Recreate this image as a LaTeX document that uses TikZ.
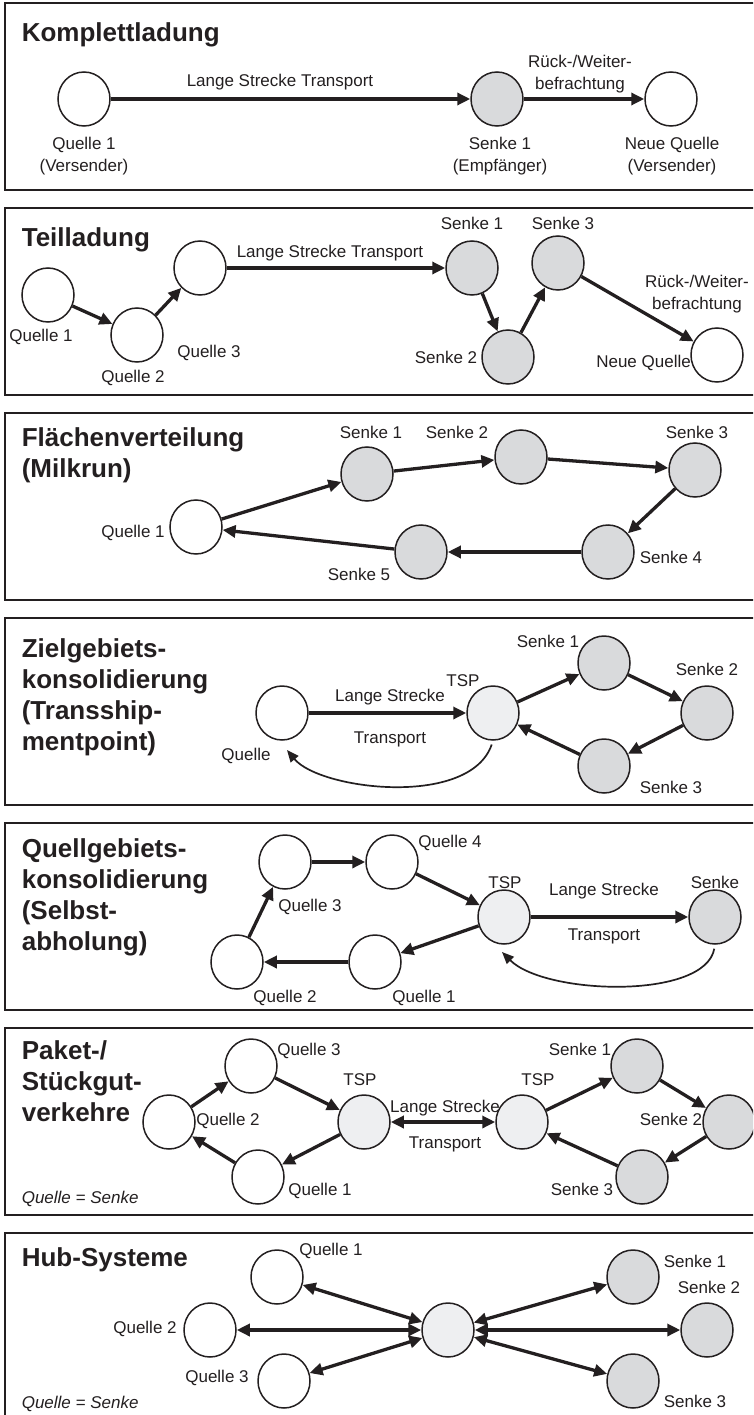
\documentclass[tikz,border=0pt]{standalone}
\usepackage{fontspec}
\setmainfont{Liberation Sans}
\usetikzlibrary{arrows.meta,shapes.geometric}
\definecolor{linie}{RGB}{35,31,32}
\definecolor{senkegrau}{RGB}{217,218,220}
\definecolor{tspgrau}{RGB}{238,239,241}
\tikzset{
  kreis/.style={ellipse, draw=linie, line width=1.5pt, minimum width=52pt, minimum height=54pt, inner sep=0pt},
  quelle/.style={kreis, fill=white},
  senke/.style={kreis, fill=senkegrau},
  tsp/.style={kreis, fill=tspgrau},
  pfeil/.style={-{Triangle[length=13pt,width=12pt]}, line width=3.3pt, draw=linie},
  dpfeil/.style={{Triangle[length=13pt,width=12pt]}-{Triangle[length=13pt,width=12pt]}, line width=3.3pt, draw=linie},
  bogen/.style={-{Triangle[length=12pt,width=10pt]}, line width=1.7pt, draw=linie, shorten <=4pt},
  lbl/.style={font=\fontsize{17}{21.5}\selectfont, text=linie, inner sep=0pt, anchor=base, align=center},
  titel/.style={font=\fontsize{26}{31}\selectfont\bfseries, text=linie, inner sep=0pt, anchor=north west, align=left},
  hinweis/.style={font=\fontsize{17}{20}\selectfont\itshape, text=linie, inner sep=0pt, anchor=base west},
  rahmen/.style={line width=2pt, draw=linie}
}
\begin{document}
\begin{tikzpicture}[x=1pt,y=-1pt]
\useasboundingbox (0,0) rectangle (753,1415);
\clip (0,0) rectangle (753,1415);
% Rahmen der sieben Felder
\foreach \k in {0,...,6}
  \draw[rahmen] (5,3+205*\k) rectangle ++(760,187);

% Komplettladung
\node[titel] (t1) at (21.6,22) {Komplettladung};
\node[quelle] (a-q1) at (84,99) {};
\node[senke] (a-s1) at (497,99) {};
\node[quelle] (a-nq) at (671,99) {};
\draw[pfeil] (a-q1) -- (a-s1);
\draw[pfeil] (a-s1) -- (a-nq);
\node[lbl] (a-l1) at (280,87) {Lange Strecke Transport};
\node[lbl, anchor=north] (a-l2) at (580,55) {Rück-/Weiter-\\befrachtung};
\node[lbl, anchor=north] (a-l3) at (84,137) {Quelle 1\\(Versender)};
\node[lbl, anchor=north] (a-l4) at (500,137) {Senke 1\\(Empfänger)};
\node[lbl, anchor=north] (a-l5) at (672,137) {Neue Quelle\\(Versender)};

% Teilladung
\node[titel] (t2) at (21.6,227) {Teilladung};
\node[quelle] (b-q1) at (48,295) {};
\node[quelle] (b-q2) at (137,335) {};
\node[quelle] (b-q3) at (200,268) {};
\node[senke] (b-s1) at (472,268) {};
\node[senke] (b-s2) at (508,357) {};
\node[senke] (b-s3) at (558,263) {};
\node[quelle] (b-nq) at (717,355) {};
\draw[pfeil] (b-q1) -- (b-q2);
\draw[pfeil] (b-q2) -- (b-q3);
\draw[pfeil] (b-q3) -- (b-s1);
\draw[pfeil] (b-s1) -- (b-s2);
\draw[pfeil] (b-s2) -- (b-s3);
\draw[pfeil] (b-s3) -- (b-nq);
\node[lbl] (b-l1) at (41,341) {Quelle 1};
\node[lbl] (b-l2) at (133,382) {Quelle 2};
\node[lbl] (b-l3) at (209,357) {Quelle 3};
\node[lbl] (b-l4) at (330,258) {Lange Strecke Transport};
\node[lbl] (b-l5) at (472,230) {Senke 1};
\node[lbl] (b-l6) at (563,230) {Senke 3};
\node[lbl] (b-l7) at (446,363) {Senke 2};
\node[lbl, anchor=north] (b-l8) at (697,275) {Rück-/Weiter-\\befrachtung};
\node[lbl, anchor=base east] (b-l9) at (691,367) {Neue Quelle};

% Flaechenverteilung
\node[titel] (t3) at (21.6,427) {Flächenverteilung\\(Milkrun)};
\node[quelle] (c-q1) at (196,527) {};
\node[senke] (c-s1) at (367,474) {};
\node[senke] (c-s2) at (521,457) {};
\node[senke] (c-s3) at (695,470) {};
\node[senke] (c-s4) at (608,552) {};
\node[senke] (c-s5) at (421,552) {};
\draw[pfeil] (c-q1) -- (c-s1);
\draw[pfeil] (c-s1) -- (c-s2);
\draw[pfeil] (c-s2) -- (c-s3);
\draw[pfeil] (c-s3) -- (c-s4);
\draw[pfeil] (c-s4) -- (c-s5);
\draw[pfeil] (c-s5) -- (c-q1);
\node[lbl] (c-l1) at (371,438) {Senke 1};
\node[lbl] (c-l2) at (457,438) {Senke 2};
\node[lbl] (c-l3) at (697,438) {Senke 3};
\node[lbl] (c-l4) at (671,563) {Senke 4};
\node[lbl] (c-l5) at (359,580) {Senke 5};
\node[lbl] (c-l6) at (133,537) {Quelle 1};

% Zielgebietskonsolidierung
\node[titel] (t4) at (21.6,638) {Zielgebiets-\\konsolidierung\\(Transship-\\mentpoint)};
\node[quelle] (d-q) at (282,713) {};
\node[tsp] (d-tsp) at (493,713) {};
\node[senke] (d-s1) at (604,663) {};
\node[senke] (d-s2) at (707,713) {};
\node[senke] (d-s3) at (604,766) {};
\draw[pfeil] (d-q) -- (d-tsp);
\draw[pfeil] (d-tsp) -- (d-s1);
\draw[pfeil] (d-s1) -- (d-s2);
\draw[pfeil] (d-s2) -- (d-s3);
\draw[pfeil] (d-s3) -- (d-tsp);
\coordinate (d-ende) at (287,750);
\draw[bogen] (d-tsp.south) .. controls (470,808) and (320,790) .. (d-ende);
\node[lbl] (d-l1) at (390,701) {Lange Strecke};
\node[lbl] (d-l2) at (390,743) {Transport};
\node[lbl] (d-l3) at (463,686) {TSP};
\node[lbl] (d-l4) at (246,760) {Quelle};
\node[lbl] (d-l5) at (548,647) {Senke 1};
\node[lbl] (d-l6) at (707,675) {Senke 2};
\node[lbl] (d-l7) at (671,793) {Senke 3};

% Quellgebietskonsolidierung
\node[titel] (t5) at (21.6,838) {Quellgebiets-\\konsolidierung\\(Selbst-\\abholung)};
\node[quelle] (e-q3) at (285,862) {};
\node[quelle] (e-q4) at (392,862) {};
\node[tsp] (e-tsp) at (504,917) {};
\node[senke] (e-s) at (715,917) {};
\node[quelle] (e-q1) at (375,962) {};
\node[quelle] (e-q2) at (237,962) {};
\draw[pfeil] (e-q2) -- (e-q3);
\draw[pfeil] (e-q3) -- (e-q4);
\draw[pfeil] (e-q4) -- (e-tsp);
\draw[pfeil] (e-tsp) -- (e-q1);
\draw[pfeil] (e-q1) -- (e-q2);
\draw[pfeil] (e-tsp) -- (e-s);
\coordinate (e-ende) at (502,952);
\draw[bogen] (e-s.south) .. controls (705,1000) and (545,995) .. (e-ende);
\node[lbl] (e-l1) at (450,847) {Quelle 4};
\node[lbl] (e-l2) at (310,911) {Quelle 3};
\node[lbl] (e-l3) at (505,888) {TSP};
\node[lbl] (e-l4) at (604,895) {Lange Strecke};
\node[lbl] (e-l5) at (604,940) {Transport};
\node[lbl] (e-l6) at (715,888) {Senke};
\node[lbl] (e-l7) at (285,1002) {Quelle 2};
\node[lbl] (e-l8) at (424,1002) {Quelle 1};

% Paket-/Stueckgutverkehre
\node[titel] (t6) at (21.6,1040) {Paket-/\\Stückgut-\\verkehre};
\node[quelle] (f-q2) at (169,1122) {};
\node[quelle] (f-q3) at (251,1066) {};
\node[tsp] (f-tl) at (364,1122) {};
\node[quelle] (f-q1) at (258,1177) {};
\node[tsp] (f-tr) at (522,1122) {};
\node[senke] (f-s1) at (637,1066) {};
\node[senke] (f-s2) at (729,1122) {};
\node[senke] (f-s3) at (642,1177) {};
\draw[pfeil] (f-q2) -- (f-q3);
\draw[pfeil] (f-q3) -- (f-tl);
\draw[pfeil] (f-tl) -- (f-q1);
\draw[pfeil] (f-q1) -- (f-q2);
\draw[pfeil] (f-tr) -- (f-s1);
\draw[pfeil] (f-s1) -- (f-s2);
\draw[pfeil] (f-s2) -- (f-s3);
\draw[pfeil] (f-s3) -- (f-tr);
\draw[dpfeil] (f-tl) -- (f-tr);
\node[lbl] (f-l1) at (309,1055) {Quelle 3};
\node[lbl] (f-l2) at (360,1085) {TSP};
\node[lbl] (f-l3) at (228,1125) {Quelle 2};
\node[lbl] (f-l4) at (320,1195) {Quelle 1};
\node[lbl] (f-l5) at (445,1112) {Lange Strecke};
\node[lbl] (f-l6) at (445,1148) {Transport};
\node[lbl] (f-l7) at (538,1085) {TSP};
\node[lbl] (f-l8) at (580,1055) {Senke 1};
\node[lbl] (f-l9) at (671,1125) {Senke 2};
\node[lbl] (f-l10) at (582,1195) {Senke 3};
\node[hinweis] (f-h) at (21.6,1203) {Quelle = Senke};

% Hub-Systeme
\node[titel] (t7) at (21.6,1247) {Hub-Systeme};
\node[tsp] (g-hub) at (448,1330) {};
\node[quelle] (g-q1) at (277,1277) {};
\node[quelle] (g-q2) at (210,1330) {};
\node[quelle] (g-q3) at (284,1381) {};
\node[senke] (g-s1) at (633,1277) {};
\node[senke] (g-s2) at (707,1330) {};
\node[senke] (g-s3) at (633,1381) {};
\draw[dpfeil] (g-hub) -- (g-q1);
\draw[dpfeil] (g-hub) -- (g-q2);
\draw[dpfeil] (g-hub) -- (g-q3);
\draw[dpfeil] (g-hub) -- (g-s1);
\draw[dpfeil] (g-hub) -- (g-s2);
\draw[dpfeil] (g-hub) -- (g-s3);
\node[lbl] (g-l1) at (331,1255) {Quelle 1};
\node[lbl] (g-l2) at (145,1333) {Quelle 2};
\node[lbl] (g-l3) at (217,1382) {Quelle 3};
\node[lbl] (g-l4) at (695,1267) {Senke 1};
\node[lbl] (g-l5) at (709,1293) {Senke 2};
\node[lbl] (g-l6) at (695,1407) {Senke 3};
\node[hinweis] (g-h) at (21.6,1408) {Quelle = Senke};
\end{tikzpicture}
\end{document}
